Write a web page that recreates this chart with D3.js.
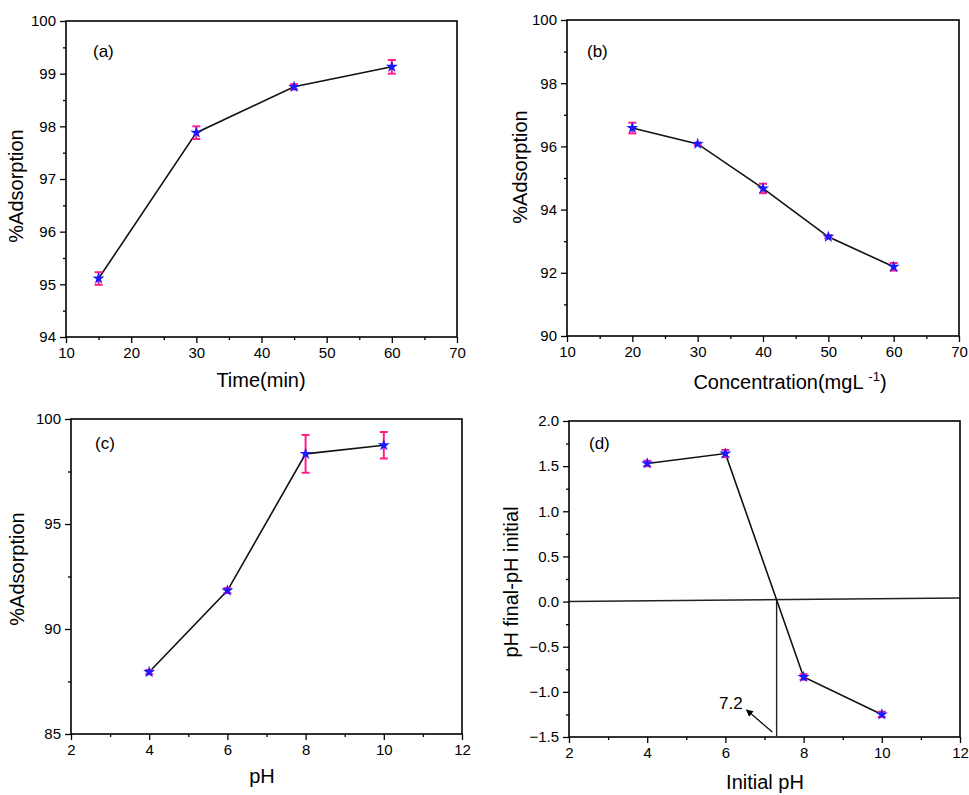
<!DOCTYPE html>
<html><head><meta charset="utf-8">
<script src="https://cdn.jsdelivr.net/npm/d3@7"></script>
<style>body{margin:0;background:#fff}svg{display:block}text{font-family:Arial,"Liberation Sans",sans-serif}</style>
</head><body>
<svg id="c" width="969" height="795"></svg>
<script>
// ---- data ----
const aTime = [15, 30, 45, 60];
const aAds = [95.11, 97.88, 98.75, 99.13];
const aErr = [0.12, 0.12, 0.05, 0.13];

const bConc = [20, 30, 40, 50, 60];
const bAds = [96.58, 96.08, 94.67, 93.14, 92.19];
const bErr = [0.17, 0.04, 0.15, 0.05, 0.12];

const cPH = [4, 6, 8, 10];
const cAds = [87.95, 91.83, 98.34, 98.75];
const cErr = [0.1, 0.12, 0.9, 0.63];

const dPH = [4, 6, 8, 10];
const dDelta = [1.53, 1.64, -0.835, -1.25];
const dErr = [0.03, 0.04, 0.03, 0.03];

const zeroLineX = [2, 12];
const zeroLineY = [0, 0.04];
const pzcX = 7.31;
const arrowFrom = [7.2, -1.445];
const arrowTo = [6.54, -1.2];
const pzcLabel = "7.2";

const panels = [
  {id:"(a)", x:aTime, y:aAds, e:aErr, xd:[10,70], yd:[94,100], xMaj:10, xMin:5, yMaj:1, yMin:0.5,
   box:[66,21,457,337], xt:"Time(min)", yt:"%Adsorption", fmt:d3.format("d"),
   lab:[93,57], xtPos:[261,387], ytPos:[23,186]},
  {id:"(b)", x:bConc, y:bAds, e:bErr, xd:[10,70], yd:[90,100], xMaj:10, xMin:5, yMaj:2, yMin:1,
   box:[567,20,959,336], xt:"Concentration(mgL ", sup:"-1", yt:"%Adsorption", fmt:d3.format("d"),
   lab:[587,57], xtPos:[790,389], ytPos:[527,167]},
  {id:"(c)", x:cPH, y:cAds, e:cErr, xd:[2,12], yd:[85,100], xMaj:2, xMin:1, yMaj:5, yMin:2.5,
   box:[71,419,462,734], xt:"pH", yt:"%Adsorption", fmt:d3.format("d"),
   lab:[95,449], xtPos:[262,783], ytPos:[24,569]},
  {id:"(d)", x:dPH, y:dDelta, e:dErr, xd:[2,12], yd:[-1.5,2.0], xMaj:2, xMin:1, yMaj:0.5, yMin:0.25,
   box:[569,421,960,737], xt:"Initial pH", yt:"pH final-pH initial", fmt:d3.format(".1f"),
   lab:[589,449], xtPos:[765,789], ytPos:[518,582]}
];

const svg = d3.select("#c");
const defs = svg.append("defs");
defs.append("marker").attr("id","ah").attr("viewBox","0 0 10 10").attr("refX",9).attr("refY",5)
  .attr("markerWidth",9).attr("markerHeight",7).attr("orient","auto-start-reverse")
  .attr("markerUnits","userSpaceOnUse")
  .append("path").attr("d","M0,0L10,5L0,10z").attr("fill","#000");

function ticksRange(d, step){
  const out=[]; const n=Math.round((d[1]-d[0])/step);
  for(let i=0;i<=n;i++) out.push(+(d[0]+i*step).toFixed(6));
  return out;
}

panels.forEach((p,pi)=>{
  const [x0,y0,x1,y1]=p.box;
  const xs=d3.scaleLinear().domain(p.xd).range([x0,x1]);
  const ys=d3.scaleLinear().domain(p.yd).range([y1,y0]);
  const g=svg.append("g");
  const xMajT=ticksRange(p.xd,p.xMaj), xMinT=ticksRange(p.xd,p.xMin).filter(v=>!xMajT.some(m=>Math.abs(m-v)<1e-6));
  const yMajT=ticksRange(p.yd,p.yMaj), yMinT=ticksRange(p.yd,p.yMin).filter(v=>!yMajT.some(m=>Math.abs(m-v)<1e-6));

  const fmtY = pi===3 ? (v=>d3.format(".1f")(v).replace("-","\u2212")) : p.fmt;
  const xa=g.append("g").attr("transform",`translate(0,${y1})`)
    .call(d3.axisBottom(xs).tickValues(xMajT).tickSize(6).tickSizeOuter(0).tickPadding(4).tickFormat(d3.format("d")));
  g.append("g").attr("transform",`translate(0,${y1})`)
    .call(d3.axisBottom(xs).tickValues(xMinT).tickSize(3).tickSizeOuter(0).tickFormat(""));
  const ya=g.append("g").attr("transform",`translate(${x0},0)`)
    .call(d3.axisLeft(ys).tickValues(yMajT).tickSize(6).tickSizeOuter(0).tickPadding(4).tickFormat(fmtY));
  g.append("g").attr("transform",`translate(${x0},0)`)
    .call(d3.axisLeft(ys).tickValues(yMinT).tickSize(3).tickSizeOuter(0).tickFormat(""));
  g.selectAll(".domain").remove();
  g.selectAll(".tick line").attr("stroke","#000").attr("stroke-width",1.3);
  g.selectAll(".tick text").attr("font-size",15).attr("fill","#000").style("font-family",'Arial,"Liberation Sans",sans-serif');
  // frame
  g.append("rect").attr("x",x0).attr("y",y0).attr("width",x1-x0).attr("height",y1-y0)
    .attr("fill","none").attr("stroke","#000").attr("stroke-width",1.6);

  if(pi===3){
    g.append("line").attr("x1",xs(zeroLineX[0])).attr("y1",ys(zeroLineY[0]))
      .attr("x2",xs(zeroLineX[1])).attr("y2",ys(zeroLineY[1])).attr("stroke","#222").attr("stroke-width",1.4);
    g.append("line").attr("x1",xs(pzcX)).attr("y1",ys(0.01)).attr("x2",xs(pzcX)).attr("y2",ys(p.yd[0]))
      .attr("stroke","#222").attr("stroke-width",1.4);
    g.append("line").attr("x1",xs(arrowFrom[0])).attr("y1",ys(arrowFrom[1]))
      .attr("x2",xs(arrowTo[0])).attr("y2",ys(arrowTo[1])).attr("stroke","#000").attr("stroke-width",1.2)
      .attr("marker-end","url(#ah)");
    g.append("text").attr("x",xs(6.14)).attr("y",ys(-1.19)).attr("text-anchor","middle")
      .attr("font-size",17).text(pzcLabel);
  }

  const pts=p.x.map((v,i)=>({x:v,y:p.y[i],e:p.e[i]}));
  g.append("path").datum(pts).attr("fill","none").attr("stroke","#111").attr("stroke-width",1.6)
    .attr("d",d3.line().x(d=>xs(d.x)).y(d=>ys(d.y)));
  const eb=g.append("g").attr("stroke","#ff1f8a").attr("stroke-width",2);
  pts.forEach(d=>{
    const cx=xs(d.x), ya1=ys(d.y+d.e), ya2=ys(d.y-d.e);
    eb.append("line").attr("x1",cx).attr("x2",cx).attr("y1",ya1).attr("y2",ya2);
    eb.append("line").attr("x1",cx-4).attr("x2",cx+4).attr("y1",ya1).attr("y2",ya1);
    eb.append("line").attr("x1",cx-4).attr("x2",cx+4).attr("y1",ya2).attr("y2",ya2);
  });
  g.selectAll("path.star").data(pts).join("path").attr("class","star")
    .attr("transform",d=>`translate(${xs(d.x)},${ys(d.y)})`)
    .attr("d",d3.symbol(d3.symbolStar,45)).attr("fill","#1a1aff");

  g.append("text").attr("x",p.lab[0]).attr("y",p.lab[1]).attr("font-size",17).text(p.id);
  const xt=g.append("text").attr("x",p.xtPos[0]).attr("y",p.xtPos[1]).attr("text-anchor","middle").attr("font-size",20);
  xt.append("tspan").text(p.xt);
  if(p.sup){ xt.append("tspan").attr("font-size",13).attr("dy",-8).text(p.sup);
             xt.append("tspan").attr("dy",8).text(")"); }
  g.append("text").attr("transform",`translate(${p.ytPos[0]},${p.ytPos[1]}) rotate(-90)`)
    .attr("text-anchor","middle").attr("font-size",20).text(p.yt);
});
</script>
</body></html>
